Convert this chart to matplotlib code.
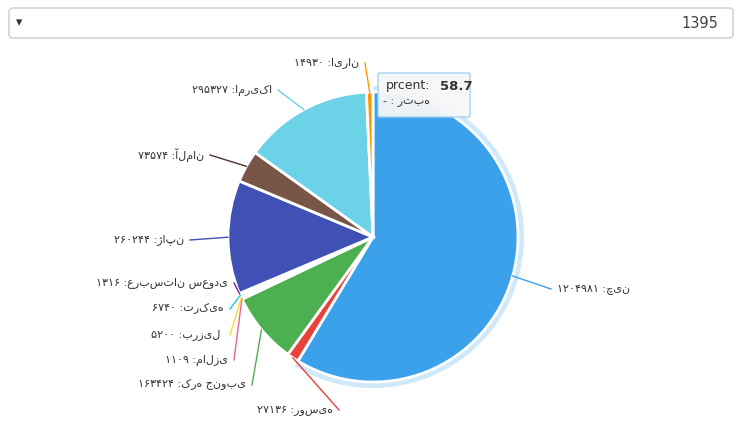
import numpy as np
import matplotlib.pyplot as plt
from matplotlib.patches import FancyBboxPatch, Wedge

plt.rcParams['font.family'] = ['DejaVu Sans']

# data, clockwise from 12 o'clock
countries = ['چین', 'روسیه', 'کره جنوبی', 'مالزی', 'برزیل ', 'ترکیه', 'عربستان سعودی',
             'ژاپن', 'آلمان', 'امریکا', 'ایران']
values = [1204981, 27136, 163424, 1109, 5200, 6740, 1316, 260244, 73574, 295327, 14930]
colors = ['#3ba1ea', '#e8423b', '#4caf50', '#f06292', '#fdd835', '#26c6da', '#7b1fa2',
          '#3f51b5', '#795548', '#6cd2e7', '#ff9800']
line_colors = ['#3ba1ea', '#e8423b', '#4caf50', '#f06292', '#fdd835', '#26c6da', '#7b1fa2',
               '#3f51b5', '#4e342e', '#6cd2e7', '#ff9800']
# label anchor (x, y in pixels from top), layout only
label_pos = [(557, 289), (333, 410), (246, 385), (228, 360), (224, 335), (224, 309),
             (228, 283), (184, 240), (204, 155), (272, 90), (359, 63)]

H = 424
fa = str.maketrans('0123456789', '۰۱۲۳۴۵۶۷۸۹')

fig = plt.figure(figsize=(7.42, 4.24), dpi=100)
ax = fig.add_axes([0, 0, 1, 1])

cx, cy, r = 373, H - 237, 145
ax.add_patch(Wedge((cx, cy), r + 6, 90 - 360 * values[0] / sum(values), 90,
                   width=5, facecolor='#cfe8fa', edgecolor='none'))
wedges, _ = ax.pie(values, colors=colors, startangle=90, counterclock=False,
                   center=(cx, cy), radius=r, frame=True,
                   wedgeprops=dict(edgecolor='white', linewidth=2))
ax.set_xlim(0, 742)
ax.set_ylim(0, H)
ax.set_aspect('equal')
ax.axis('off')

total = sum(values)
start = 90
for i, (name, v) in enumerate(zip(countries, values)):
    ang = start - 360 * v / total / 2
    start -= 360 * v / total
    ex = cx + r * np.cos(np.radians(ang))
    ey = cy + r * np.sin(np.radians(ang))
    lx, ly = label_pos[i]
    ly = H - ly
    left = lx < cx
    endx = lx + 6 if left else lx - 6
    ax.plot([ex, endx], [ey, ly], color=line_colors[i], lw=1)
    txt = str(v).translate(fa) + ' :' + name
    ax.text(lx, ly, txt, ha='right' if left else 'left', va='center',
            fontsize=8, color='#333333')

# dropdown
ax.add_patch(FancyBboxPatch((9, H - 38), 724, 30, boxstyle='round,pad=0,rounding_size=4',
                            facecolor='white', edgecolor='#cccccc', lw=1))
ax.text(16, H - 23, '▾', fontsize=9, va='center', color='#333333')
ax.text(718, H - 23, '1395', fontsize=10.5, ha='right', va='center', color='#444444')

# tooltip
ax.add_patch(FancyBboxPatch((378, H - 117), 92, 44, boxstyle='round,pad=0,rounding_size=2',
                            facecolor='#f7f7f7', edgecolor='#9fd0f2', lw=1, alpha=0.95))
ax.text(386, H - 86, 'prcent:', fontsize=9, va='center', color='#333333')
ax.text(440, H - 86, '58.7', fontsize=9.5, va='center', fontweight='bold', color='#333333')
ax.text(430, H - 102, '- : ' + 'رتبه', fontsize=8, va='center', ha='right', color='#333333')

fig.savefig('out.png', dpi=100)
